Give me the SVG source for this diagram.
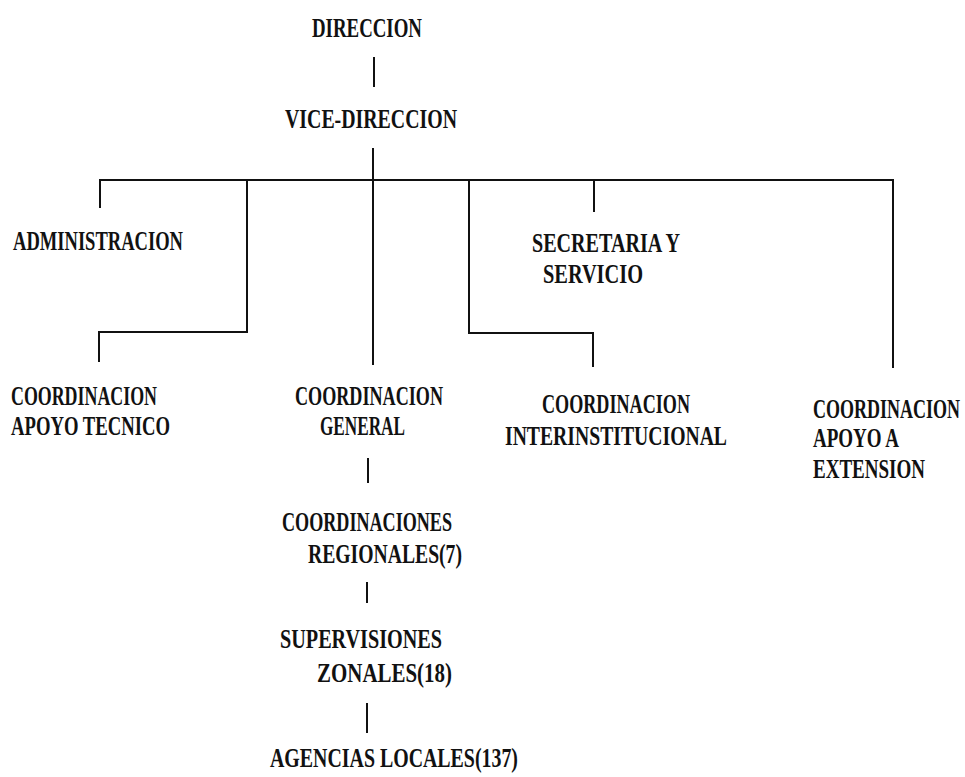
<svg xmlns="http://www.w3.org/2000/svg" width="965" height="777" viewBox="0 0 965 777">
<style>
text{font-family:"Liberation Serif","DejaVu Serif",serif;font-size:28px;font-weight:bold;fill:#111;}
.c{fill:none;stroke:#111;stroke-width:2;}
</style>
<rect width="965" height="777" fill="#fff"/>
<g id="connectors" class="c">
<path d="M374,57V87"/>
<path d="M373,148V365"/>
<path d="M100,208V180H893V368"/>
<path d="M247,180V332H99V362"/>
<path d="M469,180V333H593V367"/>
<path d="M594,180V212"/>
<path d="M368,458V483"/>
<path d="M367,582V603"/>
<path d="M367,703V733"/>
</g>
<g transform="scale(0.625,1)">
<g id="direccion"><text x="499.2" y="37" textLength="176" lengthAdjust="spacingAndGlyphs">DIRECCION</text></g>
<g id="vice-direccion"><text x="456" y="128" textLength="275.2" lengthAdjust="spacingAndGlyphs">VICE-DIRECCION</text></g>
<g id="administracion"><text x="20.8" y="250" textLength="272" lengthAdjust="spacingAndGlyphs">ADMINISTRACION</text></g>
<g id="secretaria"><text x="851.2" y="252" textLength="236.8" lengthAdjust="spacingAndGlyphs">SECRETARIA Y</text><text x="868.8" y="283" textLength="160" lengthAdjust="spacingAndGlyphs">SERVICIO</text></g>
<g id="coord-apoyo-tecnico"><text x="17.6" y="405" textLength="233.6" lengthAdjust="spacingAndGlyphs">COORDINACION</text><text x="17.6" y="435" textLength="254.4" lengthAdjust="spacingAndGlyphs">APOYO TECNICO</text></g>
<g id="coord-general"><text x="472" y="405" textLength="236.8" lengthAdjust="spacingAndGlyphs">COORDINACION</text><text x="512" y="435" textLength="136" lengthAdjust="spacingAndGlyphs">GENERAL</text></g>
<g id="coord-interinstitucional"><text x="867.2" y="413" textLength="236.8" lengthAdjust="spacingAndGlyphs">COORDINACION</text><text x="808" y="445" textLength="355.2" lengthAdjust="spacingAndGlyphs">INTERINSTITUCIONAL</text></g>
<g id="coord-apoyo-extension"><text x="1300.8" y="418" textLength="235.2" lengthAdjust="spacingAndGlyphs">COORDINACION</text><text x="1300.8" y="447" textLength="137.6" lengthAdjust="spacingAndGlyphs">APOYO A</text><text x="1300.8" y="478" textLength="179.2" lengthAdjust="spacingAndGlyphs">EXTENSION</text></g>
<g id="coord-regionales"><text x="451.2" y="531" textLength="272" lengthAdjust="spacingAndGlyphs">COORDINACIONES</text><text x="492.8" y="563" textLength="246.4" lengthAdjust="spacingAndGlyphs">REGIONALES(7)</text></g>
<g id="supervisiones"><text x="448" y="648" textLength="259.2" lengthAdjust="spacingAndGlyphs">SUPERVISIONES</text><text x="507.2" y="682" textLength="216" lengthAdjust="spacingAndGlyphs">ZONALES(18)</text></g>
<g id="agencias"><text x="432" y="767" textLength="396.8" lengthAdjust="spacingAndGlyphs">AGENCIAS LOCALES(137)</text></g>
</g>
</svg>
